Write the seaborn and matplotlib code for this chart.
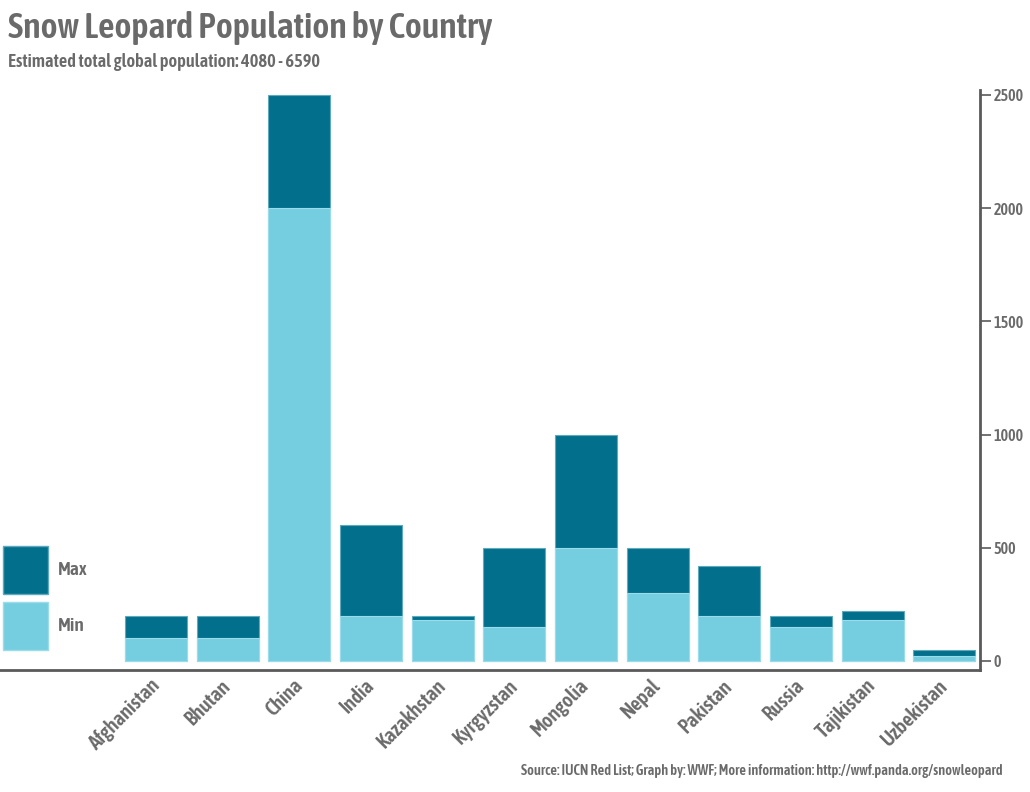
import matplotlib
matplotlib.use("Agg")
import matplotlib.pyplot as plt
import seaborn as sns
import pandas as pd
from matplotlib.patches import Patch
from matplotlib import font_manager as fm

countries = ["Afghanistan", "Bhutan", "China", "India", "Kazakhstan", "Kyrgyzstan",
             "Mongolia", "Nepal", "Pakistan", "Russia", "Tajikistan", "Uzbekistan"]
min_pop = [100, 100, 2000, 200, 180, 150, 500, 300, 200, 150, 180, 20]
max_pop = [200, 200, 2500, 600, 200, 500, 1000, 500, 420, 200, 220, 50]
y_ticks = [0, 500, 1000, 1500, 2000, 2500]

title = "Snow Leopard Population by Country"
subtitle = "Estimated total global population: 4080 - 6590"
source = "Source: IUCN Red List; Graph by: WWF; More information: http://wwf.panda.org/snowleopard"

DARK = "#02708C"
LIGHT = "#75CEE0"
GRAY = "#6a6a6a"

sns.set_theme(style="white")
plt.rcParams["font.family"] = ["DejaVu Sans"]


# ---- choose a condensed font if one is installed ----
def _is_condensed(f):
    st = f.stretch
    if isinstance(st, str):
        cond = "condensed" in st or "narrow" in st
    else:
        cond = st < 500
    return cond or "Condensed" in f.name or "Narrow" in f.name


def _wt(f):
    w = f.weight
    if isinstance(w, str):
        return {"bold": 700, "semibold": 600, "medium": 500, "normal": 400,
                "regular": 400, "light": 300}.get(w, 400)
    return w


cands = [f for f in fm.fontManager.ttflist if _is_condensed(f) and f.style == "normal"]
pref = ["Roboto", "Noto Sans", "Open Sans", "Liberation Sans", "DejaVu Sans", "Lato", "Inter"]


def _pick(target_w):
    best = None
    for f in cands:
        score = abs(_wt(f) - target_w)
        for i, p in enumerate(pref):
            if f.name.startswith(p):
                score += i
                break
        else:
            score += 20
        if best is None or score < best[0]:
            best = (score, f)
    return best[1] if best else None


f_bold = _pick(600)
if f_bold is not None:
    FP = fm.FontProperties(fname=f_bold.fname)
else:
    FP = fm.FontProperties(family="Roboto", weight="medium")

df = pd.DataFrame({"country": countries, "min": min_pop, "max": max_pop})

fig = plt.figure(figsize=(10.3, 7.92), dpi=100)
ax = fig.add_axes([0.0, 1 - 670 / 792, 980 / 1030, (670 - 90) / 792])

sns.barplot(data=df, x="country", y="max", order=countries, color=DARK, saturation=1,
            width=0.865, edgecolor="#5fa9bd", linewidth=0.8, ax=ax)
sns.barplot(data=df, x="country", y="min", order=countries, color=LIGHT, saturation=1,
            width=0.865, edgecolor="#9adcea", linewidth=0.8, ax=ax)

ax.set_xlim(-2.18, 11.5)
ax.set_ylim(-40, 2522)
ax.set_xlabel("")
ax.set_ylabel("")

for s in ["top", "left"]:
    ax.spines[s].set_visible(False)
for s in ["bottom", "right"]:
    ax.spines[s].set_visible(True)
    ax.spines[s].set_color("#5a5a5a")
    ax.spines[s].set_linewidth(2)

ax.yaxis.tick_right()
ax.set_yticks(y_ticks)
ax.set_yticklabels([str(v) for v in y_ticks])
ax.tick_params(axis="y", which="both", right=True, left=False, direction="out",
               length=8, width=1.2, color="#5a5a5a", labelcolor=GRAY, pad=2)
ax.tick_params(axis="x", bottom=False, length=0, labelcolor=GRAY, pad=9)
ax.set_xticks(range(len(countries)))
ax.set_xticklabels(countries)

renderer = fig.canvas.get_renderer()


def text_width(sample, fp, size=20):
    probe = fig.text(0, 0, sample, fontproperties=fp, fontsize=size)
    w = probe.get_window_extent(renderer).width
    probe.remove()
    return w


def fit(texts, sample, target_px, fp):
    size = 20 * target_px / text_width(sample, fp)
    for t in texts:
        t.set_fontproperties(fp)
        t.set_fontsize(size)
    return size


fit(ax.get_xticklabels(), "Afghanistan", 92, FP)
for lab in ax.get_xticklabels():
    lab.set_rotation(45)
    lab.set_ha("right")
    lab.set_va("center")
    lab.set_rotation_mode("anchor")
fit(ax.get_yticklabels(), "2500", 30, FP)

# legend
handles = [Patch(facecolor=DARK, edgecolor="#5fa9bd", label="Max"),
           Patch(facecolor=LIGHT, edgecolor="#9adcea", label="Min")]
leg_fs = 20 * 30 / text_width("Max", FP)
FP_LEG = FP.copy()
FP_LEG.set_size(leg_fs)
fs_px = leg_fs * 100 / 72
hh = (48 / fs_px - 0.245) / 0.65
leg = fig.legend(handles=handles, loc="lower left",
                 bbox_to_anchor=(3 / 1030, 1 - 650 / 792),
                 frameon=False, prop=FP_LEG,
                 handlelength=45 / fs_px, handleheight=hh,
                 labelspacing=8 / fs_px, handletextpad=10 / fs_px,
                 borderaxespad=0, borderpad=0)
for t in leg.get_texts():
    t.set_color(GRAY)

t1 = fig.text(8 / 1030, 1 - 28 / 792, title, color=GRAY, ha="left", va="center")
fit([t1], title, 484, FP)
t2 = fig.text(8 / 1030, 1 - 62 / 792, subtitle, color=GRAY, ha="left", va="center")
fit([t2], subtitle, 312, FP)
t3 = fig.text(1003 / 1030, 1 - 771 / 792, source, color=GRAY, ha="right", va="center")
fit([t3], source, 480, FP)

fig.savefig("out.png", dpi=100)
